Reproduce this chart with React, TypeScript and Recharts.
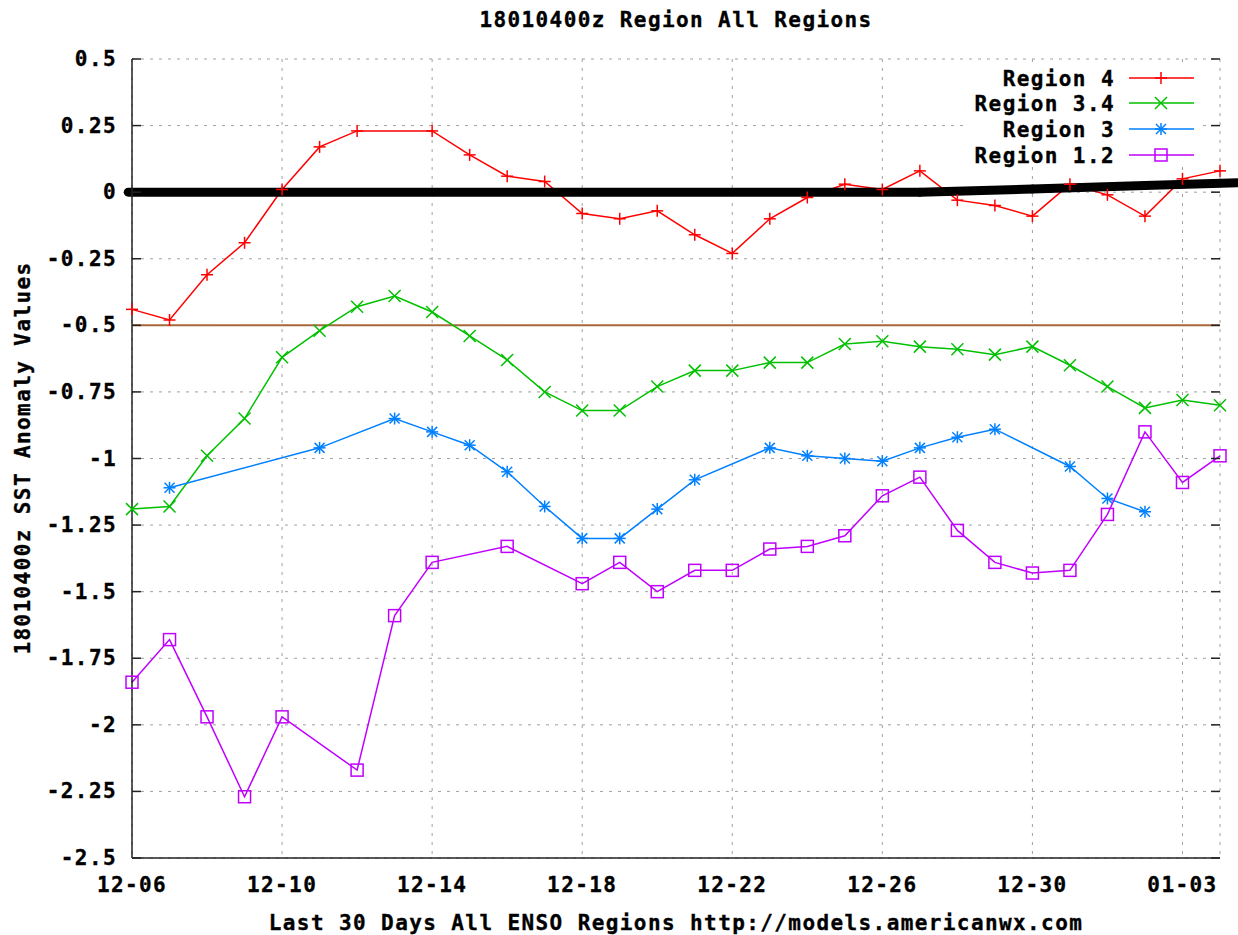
import React from "react";
import { LineChart, Line, XAxis, YAxis, CartesianGrid, ReferenceLine } from "recharts";

// one entry per day, 12-06 .. 01-04
const dates = [
  "12-06", "12-07", "12-08", "12-09", "12-10", "12-11", "12-12", "12-13", "12-14", "12-15",
  "12-16", "12-17", "12-18", "12-19", "12-20", "12-21", "12-22", "12-23", "12-24", "12-25",
  "12-26", "12-27", "12-28", "12-29", "12-30", "12-31", "01-01", "01-02", "01-03", "01-04",
];
const tickLabels = ["12-06", "12-10", "12-14", "12-18", "12-22", "12-26", "12-30", "01-03"];
const yTicks = [0.5, 0.25, 0, -0.25, -0.5, -0.75, -1, -1.25, -1.5, -1.75, -2, -2.25, -2.5];

const region4 = [
  -0.44, -0.48, -0.31, -0.19, 0.01, 0.17, 0.23, null, 0.23, 0.14,
  0.06, 0.04, -0.08, -0.1, -0.07, -0.16, -0.23, -0.1, -0.02, 0.03,
  0.01, 0.08, -0.03, -0.05, -0.09, 0.03, -0.01, -0.09, 0.05, 0.08,
];
const region34 = [
  -1.19, -1.18, -0.99, -0.85, -0.62, -0.52, -0.43, -0.39, -0.45, -0.54,
  -0.63, -0.75, -0.82, -0.82, -0.73, -0.67, -0.67, -0.64, -0.64, -0.57,
  -0.56, -0.58, -0.59, -0.61, -0.58, -0.65, -0.73, -0.81, -0.78, -0.8,
];
const region3 = [
  null, -1.11, null, null, null, -0.96, null, -0.85, -0.9, -0.95,
  -1.05, -1.18, -1.3, -1.3, -1.19, -1.08, null, -0.96, -0.99, -1.0,
  -1.01, -0.96, -0.92, -0.89, null, -1.03, -1.15, -1.2, null, null,
];
const region12 = [
  -1.84, -1.68, -1.97, -2.27, -1.97, null, -2.17, -1.59, -1.39, null,
  -1.33, null, -1.47, -1.39, -1.5, -1.42, -1.42, -1.34, -1.33, -1.29,
  -1.14, -1.07, -1.27, -1.39, -1.43, -1.42, -1.21, -0.9, -1.09, -0.99,
];

// hand-drawn black trend line on top of the plot
const trendDays = [-0.1, 21, 24, 27, 29.5];
const trendValues = [0, 0, 0.012, 0.025, 0.035];

const threshold = -0.5;

const series = [
  { key: "r4", name: "Region 4", color: "#ff0000", shape: "plus", values: region4 },
  { key: "r34", name: "Region 3.4", color: "#00c000", shape: "cross", values: region34 },
  { key: "r3", name: "Region 3", color: "#0080ff", shape: "star", values: region3 },
  { key: "r12", name: "Region 1.2", color: "#c000ff", shape: "square", values: region12 },
];

const data = dates.map((d, i) => {
  const row: Record<string, number | string | null> = { day: i, date: d };
  series.forEach((s) => (row[s.key] = s.values[i]));
  return row;
});

const allDays = dates.map((_, i) => i);
const majorDays = tickLabels.map((l) => dates.indexOf(l));

const W = 1238;
const H = 935;
const PLOT_W = 1088;
const PLOT_H = 799;

const font = {
  fontFamily: "'DejaVu Sans Mono', monospace",
  fontWeight: 700,
  fontSize: 21,
  letterSpacing: 1.4,
  fill: "#000",
  stroke: "#000",
  strokeWidth: 0.35,
};

function drawMarker(shape: string, cx: number, cy: number, color: string) {
  const s = 6;
  const sw = 1.5;
  if (shape === "plus") {
    return (
      <g stroke={color} strokeWidth={sw}>
        <line x1={cx - s} x2={cx + s} y1={cy} y2={cy} />
        <line x1={cx} x2={cx} y1={cy - s} y2={cy + s} />
      </g>
    );
  }
  if (shape === "cross") {
    return (
      <g stroke={color} strokeWidth={sw}>
        <line x1={cx - s} x2={cx + s} y1={cy - s} y2={cy + s} />
        <line x1={cx - s} x2={cx + s} y1={cy + s} y2={cy - s} />
      </g>
    );
  }
  if (shape === "star") {
    const d = 5;
    return (
      <g stroke={color} strokeWidth={sw}>
        <line x1={cx - s} x2={cx + s} y1={cy} y2={cy} />
        <line x1={cx} x2={cx} y1={cy - s} y2={cy + s} />
        <line x1={cx - d} x2={cx + d} y1={cy - d} y2={cy + d} />
        <line x1={cx - d} x2={cx + d} y1={cy + d} y2={cy - d} />
      </g>
    );
  }
  return (
    <rect x={cx - s} y={cy - s} width={s * 2} height={s * 2} fill="none" stroke={color} strokeWidth={sw} />
  );
}

function makeDot(shape: string, color: string) {
  // eslint-disable-next-line @typescript-eslint/no-explicit-any
  return (p: any) => {
    if (p.value == null || p.cy == null || p.cx == null) return <g key={p.index} />;
    return <g key={p.index}>{drawMarker(shape, p.cx, p.cy, color)}</g>;
  };
}

// eslint-disable-next-line @typescript-eslint/no-explicit-any
function DateTick({ x, y, payload }: any) {
  return (
    <text x={x} y={y + 34} textAnchor="middle" style={font}>
      {dates[payload.value]}
    </text>
  );
}

// inward ticks on top and bottom border, long at labelled days
// eslint-disable-next-line @typescript-eslint/no-explicit-any
function DayTick({ x, y, payload }: any) {
  const len = majorDays.includes(payload.value) ? 9 : 5;
  return (
    <g stroke="#222" strokeWidth={1.5}>
      <line x1={x} x2={x} y1={y} y2={y + len} />
      <line x1={x} x2={x} y1={y + PLOT_H} y2={y + PLOT_H - len} />
    </g>
  );
}

// eslint-disable-next-line @typescript-eslint/no-explicit-any
function ValueTick({ x, y, payload }: any) {
  return (
    <g>
      <text x={x - 15} y={y + 7} textAnchor="end" style={font}>
        {String(payload.value)}
      </text>
      <g stroke="#222" strokeWidth={1.5}>
        <line x1={x} x2={x + 9} y1={y} y2={y} />
        <line x1={x + PLOT_W - 9} x2={x + PLOT_W} y1={y} y2={y} />
      </g>
    </g>
  );
}

function Overlay() {
  const legendRows = [86, 111, 137, 163];
  return (
    <svg width={W} height={H} style={{ position: "absolute", left: 0, top: 0, pointerEvents: "none" }}>
      <text x={676} y={27} textAnchor="middle" style={font}>
        18010400z Region All Regions
      </text>
      <text x={676} y={930} textAnchor="middle" style={font}>
        Last 30 Days All ENSO Regions http://models.americanwx.com
      </text>
      <text transform="translate(30,458) rotate(-90)" textAnchor="middle" style={font}>
        18010400z SST Anomaly Values
      </text>
      <rect x={965} y={68} width={236} height={98} fill="#fff" />
      {series.map((s, i) => {
        const base = legendRows[i];
        const ly = base - 8;
        return (
          <g key={s.key}>
            <text x={1115} y={base} textAnchor="end" style={font}>
              {s.name}
            </text>
            <line x1={1129} x2={1194} y1={ly} y2={ly} stroke={s.color} strokeWidth={1.5} />
            {drawMarker(s.shape, 1161, ly, s.color)}
          </g>
        );
      })}
    </svg>
  );
}

export default function App() {
  return (
    <div style={{ position: "relative", width: W, height: H, background: "#fff" }}>
      <style>{"html,body{margin:0;padding:0;overflow:hidden;background:#fff}"}</style>
      <LineChart width={W} height={H} data={data} margin={{ top: 59, right: 18, bottom: 0, left: 0 }}>
        <CartesianGrid stroke="#a0a0a0" strokeDasharray="3 6" strokeWidth={1} />

        <XAxis
          dataKey="day"
          type="number"
          domain={[0, 29]}
          ticks={majorDays}
          interval={0}
          height={77}
          tickSize={0}
          tickMargin={0}
          tickLine={false}
          axisLine={{ stroke: "#222", strokeWidth: 1.5 }}
          tick={<DateTick />}
        />
        <XAxis
          xAxisId="top"
          orientation="top"
          dataKey="day"
          type="number"
          domain={[0, 29]}
          ticks={allDays}
          interval={0}
          height={0}
          tickSize={0}
          tickMargin={0}
          tickLine={false}
          axisLine={{ stroke: "#222", strokeWidth: 1.5 }}
          tick={<DayTick />}
        />
        <YAxis
          type="number"
          domain={[-2.5, 0.5]}
          ticks={yTicks}
          interval={0}
          width={132}
          tickSize={0}
          tickMargin={0}
          tickLine={false}
          axisLine={{ stroke: "#222", strokeWidth: 1.5 }}
          tick={<ValueTick />}
        />
        <YAxis
          yAxisId="right"
          orientation="right"
          type="number"
          domain={[-2.5, 0.5]}
          width={0}
          tick={false}
          tickLine={false}
          axisLine={{ stroke: "#222", strokeWidth: 1.5 }}
        />

        <ReferenceLine y={threshold} stroke="#a8683a" strokeWidth={2} />

        {series.map((s) => (
          <Line
            key={s.key}
            type="linear"
            dataKey={s.key}
            name={s.name}
            stroke={s.color}
            strokeWidth={1.5}
            connectNulls
            dot={makeDot(s.shape, s.color)}
            activeDot={false}
            isAnimationActive={false}
          />
        ))}

        {trendDays.slice(1).map((d, i) => (
          <ReferenceLine
            key={`trend-${i}`}
            segment={[
              { x: trendDays[i], y: trendValues[i] },
              { x: d, y: trendValues[i + 1] },
            ]}
            stroke="#000"
            strokeWidth={9}
            strokeLinecap="round"
            ifOverflow="visible"
          />
        ))}
      </LineChart>
      <Overlay />
    </div>
  );
}
